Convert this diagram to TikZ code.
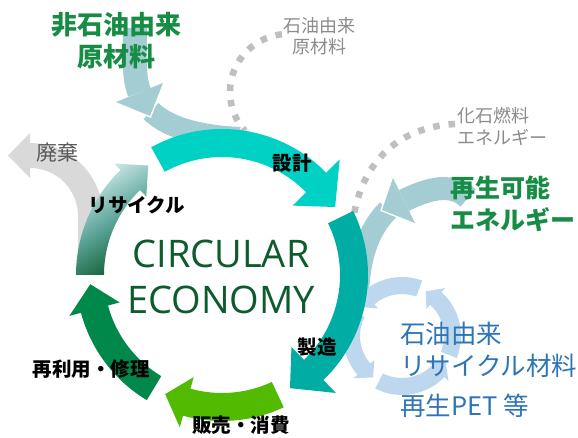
\documentclass[tikz,border=0pt]{standalone}
\usepackage{fontspec}
\newfontfamily\jp{Noto Sans CJK JP}
\newfontfamily\lat{Open Sans}
\usetikzlibrary{calc}
\definecolor{designc}{HTML}{00D1C5}
\definecolor{manufc}{HTML}{00ADA4}
\definecolor{salesc}{HTML}{52BA00}
\definecolor{reusec}{HTML}{00884A}
\definecolor{recdark}{HTML}{0F5B30}
\definecolor{recmid}{HTML}{5FA79C}
\definecolor{reclight}{HTML}{D2EBEA}
\definecolor{inblue}{HTML}{A4CDD3}
\definecolor{ringblue}{HTML}{BDD7EE}
\definecolor{wastegrey}{HTML}{D9D9D9}
\definecolor{dotgrey}{HTML}{BFBFBF}
\definecolor{circtext}{HTML}{0E5B2D}
\definecolor{greentext}{HTML}{178C45}
\definecolor{bluetext}{HTML}{2E75B6}
\definecolor{greytext}{HTML}{8C8C8C}
\definecolor{wastetext}{HTML}{595959}
% #1 style, #2 cx, #3 cy, #4 rin, #5 rout, #6 start, #7 head base, #8 tip, #9 head half width
\newcommand\circarrow[9]{%
  \begin{scope}[shift={(#2,#3)}]
  \pgfmathsetmacro\cmid{(#4+#5)/2}%
  \pgfmathsetmacro\chout{\cmid+#9}%
  \pgfmathsetmacro\chin{\cmid-#9}%
  \path[#1] (#6:#5) arc[start angle=#6,end angle=#7,radius=#5] -- (#7:\chout) -- (#8:\cmid) -- (#7:\chin) -- (#7:#4) arc[start angle=#7,end angle=#6,radius=#4] -- cycle;
  \end{scope}}
\begin{document}
\begin{tikzpicture}[x=1pt,y=1pt,yscale=-1]
\tikzset{
  dots/.style={draw=dotgrey, line width=6.5pt, dash pattern=on 6.5pt off 9pt},
  inband/.style={draw=inblue},
  lbl/.style={font=\jp\bfseries\fontsize{19.5}{22}\selectfont, text=black, inner sep=0pt},
  bigjp/.style={font=\jp\bfseries\fontsize{26}{32}\selectfont, text=greentext, inner sep=0pt},
  smalljp/.style={font=\jp\fontsize{18}{21.5}\selectfont, text=greytext, inner sep=0pt},
  circfont/.style={font=\lat\fontsize{38}{44}\selectfont, text=circtext, inner sep=0pt, anchor=base},
}
\fill[white] (0,0) rectangle (578,438);
\useasboundingbox (0,0) rectangle (578,438);

% dotted fossil lines
\draw[dots] (288,92) ++(-96:58) arc[start angle=-96,end angle=-222,radius=58];
\draw[dots] (455,124) .. controls (400,127) and (362,160) .. (353,220);

% waste arrow
\fill[wastegrey] (78,275) -- (78,216) arc[start angle=0,end angle=-90,radius=48] -- (30,178) -- (8,155.5) -- (30,133) -- (30,143) arc[start angle=-90,end angle=0,radius=73] -- (103,275) -- cycle;

% input arrow: non-petroleum raw material
\draw[inband, line width=22pt] (151,111) .. controls (166,126) and (195,136) .. (240,138);
\draw[inband, line width=24pt] (135,28) .. controls (135,55) and (133,76.5) .. (139.5,92.5);
\draw[white, line width=3pt, line join=miter] (116,102) -- (150,116) -- (163,83);
\fill[inblue] (116,102) -- (150,116) -- (163,83) -- cycle;

% input arrow: renewable energy
\draw[inband, line width=22pt] (388,210) .. controls (372,226) and (360,250) .. (358,292);
\draw[inband, line width=23pt] (468,198) .. controls (450,180) and (422,191.7) .. (404,200.5);
\draw[white, line width=3pt, line join=miter] (393,178) -- (382,210) -- (415,223);
\fill[inblue] (393,178) -- (382,210) -- (415,223) -- cycle;

% recycled-material ring (four arrows, counter-clockwise)
\circarrow{fill=ringblue}{402}{336}{42}{59}{22}{-48}{-62}{14}
\circarrow{fill=ringblue}{402}{336}{42}{59}{-70}{-131}{-145}{14}
\circarrow{fill=ringblue}{402}{336}{42}{59}{-153}{-221}{-235}{14}
\circarrow{fill=ringblue}{402}{336}{42}{59}{-243}{-316}{-330}{14}

% main cycle
\circarrow{fill=designc}{222}{275}{118}{146}{-119}{-44.5}{-31}{33}
\circarrow{fill=manufc}{222}{275}{118}{146}{-26}{46}{59}{32}
\circarrow{fill=salesc}{222}{275}{118}{146}{65}{105.5}{115.5}{26}
\circarrow{fill=reusec}{222}{275}{118}{146}{121}{165}{176}{26}
\circarrow{top color=recdark, bottom color=reclight, middle color=recmid, shading angle=-147}{222}{275}{118}{146}{180}{226}{236}{23}

% texts
\node[circfont] (circ) at (221,268) {CIRCULAR};
\node[circfont] (econ) at (221,313) {ECONOMY};

\node[bigjp, align=center] (nonpet) at (116,40.5) {非石油由来\\原材料};
\node[smalljp, align=center] (pet) at (319,36) {石油由来\\原材料};
\node[smalljp, align=left, anchor=west] (fossil) at (457,126.5) {化石燃料\\エネルギー};
\node[bigjp, font=\jp\bfseries\fontsize{25}{32}\selectfont, align=left, anchor=west] (renew) at (450,203.5) {再生可能\\エネルギー};
\node[font=\jp\fontsize{25.5}{32}\selectfont, text=bluetext, inner sep=0pt, align=left, anchor=west] (recmat) at (400,370) {石油由来\\リサイクル材料\\[8pt]再生PET 等};

\node[lbl] (design) at (292,163) {設計};
\node[lbl] (manuf) at (317,347) {製造};
\node[lbl] (sales) at (241,425) {販売・消費};
\node[lbl] (reuse) at (91,369) {再利用・修理};
\node[lbl] (recyc) at (137,205) {リサイクル};
\node[font=\jp\fontsize{21}{24}\selectfont, text=wastetext, inner sep=0pt] (waste) at (57,153) {廃棄};
\end{tikzpicture}
\end{document}
